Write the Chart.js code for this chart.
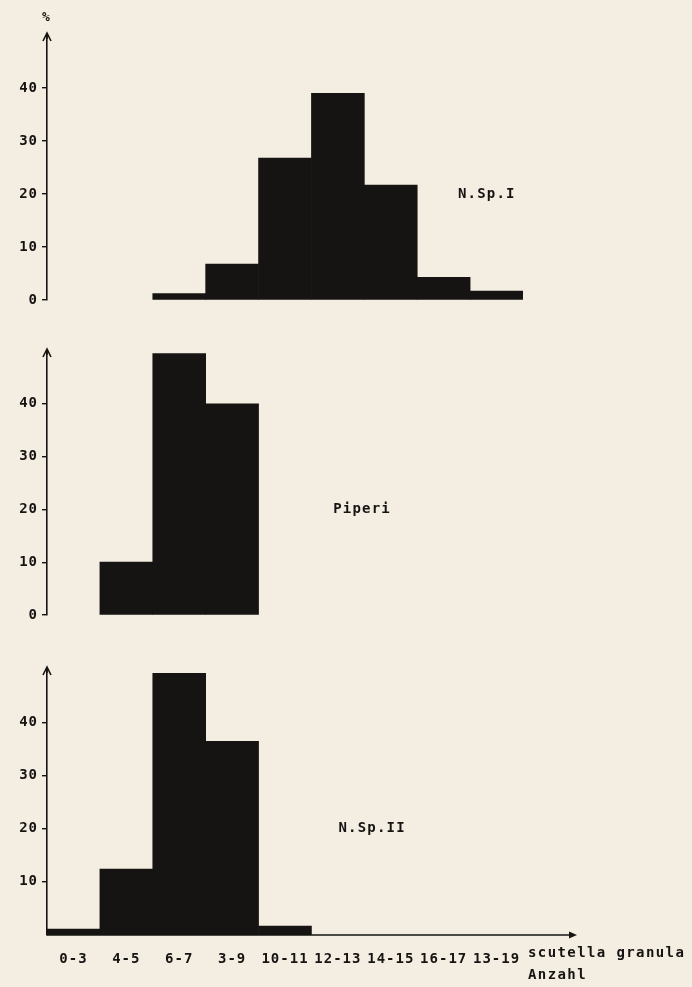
<!DOCTYPE html>
<html>
<head>
<meta charset="utf-8">
<script src="https://cdn.jsdelivr.net/npm/chart.js@4.4.1/dist/chart.umd.min.js"></script>
<style>
  html, body { margin: 0; padding: 0; background: #f4ede1; }
  #wrap { position: relative; width: 692px; height: 987px; }
  #wrap canvas { position: absolute; left: 0; top: 0; }
</style>
</head>
<body>
<div id="wrap">
  <canvas id="panel1" width="692" height="987"></canvas>
  <canvas id="panel2" width="692" height="987"></canvas>
  <canvas id="panel3" width="692" height="987"></canvas>
</div>
<script>
const categories = ['0-3', '4-5', '6-7', '3-9', '10-11', '12-13', '14-15', '16-17', '13-19'];
const nsp1Values = [0, 0, 1.2, 6.8, 26.8, 39, 21.7, 4.3, 1.7];
const piperiValues = [0, 10, 49.5, 40, 0, 0, 0, 0, 0];
const nsp2Values = [1.1, 12.4, 49.2, 36.4, 1.7, 0, 0, 0, 0];
const yTicks = [0, 10, 20, 30, 40];
const seriesNames = ['N.Sp.I', 'Piperi', 'N.Sp.II'];

const ink = '#161412';
const font = "'DejaVu Sans Mono', monospace";

// arrows, panel names, axis caption
const decor = {
  id: 'decor',
  beforeDraw(chart) {
    chart.ctx.letterSpacing = '1px';
  },
  afterDraw(chart, args, o) {
    const ctx = chart.ctx;
    const area = chart.chartArea;
    const ax = area.left;
    ctx.save();
    ctx.strokeStyle = ink;
    ctx.fillStyle = ink;
    ctx.lineWidth = 1.6;

    // y axis arrow
    ctx.beginPath();
    ctx.moveTo(ax, area.top + 4);
    ctx.lineTo(ax, area.top - 2);
    ctx.moveTo(ax - 4, area.top + 6);
    ctx.lineTo(ax, area.top - 2);
    ctx.lineTo(ax + 4, area.top + 6);
    ctx.stroke();

    // series name
    ctx.font = 'bold 14px ' + font;
    ctx.letterSpacing = '1.2px';
    ctx.textAlign = 'center';
    ctx.textBaseline = 'middle';
    const lx = chart.scales.x.getPixelForDecimal(o.labelAt);
    const ly = chart.scales.y.getPixelForValue(20);
    ctx.fillText(o.label, lx, ly);

    if (o.percent) {
      ctx.font = 'bold 13px ' + font;
      ctx.letterSpacing = '0px';
      ctx.fillText('%', ax - 1, area.top - 17);
    }

    if (o.xArrow) {
      const y = area.bottom;
      const end = area.right + 54;
      ctx.lineWidth = 1.6;
      ctx.beginPath();
      ctx.moveTo(ax, y);
      ctx.lineTo(end - 4, y);
      ctx.stroke();
      ctx.beginPath();
      ctx.moveTo(end, y);
      ctx.lineTo(end - 8, y - 3.5);
      ctx.lineTo(end - 8, y + 3.5);
      ctx.closePath();
      ctx.fill();

      ctx.font = 'bold 14px ' + font;
      ctx.letterSpacing = '1.4px';
      ctx.textAlign = 'left';
      ctx.fillText('scutella granula', area.right + 5, y + 18);
      ctx.fillText('Anzahl', area.right + 5, y + 40);
    }
    ctx.restore();
  }
};

function makePanel(id, name, values, pad, o) {
  new Chart(document.getElementById(id), {
    type: 'bar',
    data: {
      labels: categories,
      datasets: [{
        label: name,
        data: values.map(v => v || null),
        backgroundColor: ink,
        borderWidth: 0,
        categoryPercentage: 1,
        barPercentage: 1
      }]
    },
    options: {
      responsive: false,
      animation: false,
      devicePixelRatio: 1,
      layout: { padding: pad },
      plugins: {
        legend: { display: false },
        tooltip: { enabled: false },
        decor: Object.assign({ label: name }, o)
      },
      scales: {
        x: {
          display: !!o.xArrow,
          grid: { display: false },
          border: { display: false },
          ticks: {
            color: ink,
            font: { family: font, size: 14, weight: 'bold' },
            padding: 8,
            maxRotation: 0,
            autoSkip: false
          },
          afterFit(scale) { scale.height = o.xArrow ? 30 : 0; }
        },
        y: {
          min: 0,
          max: 50,
          afterFit(scale) { scale.width = 47; },
          afterBuildTicks(scale) {
            scale.ticks = yTicks.filter(v => !(o.xArrow && v === 0)).map(v => ({ value: v }));
          },
          grid: {
            drawOnChartArea: false,
            drawTicks: true,
            tickLength: 5,
            color: ink,
            lineWidth: 1.4
          },
          border: { display: true, color: ink, width: 1.6 },
          ticks: {
            color: ink,
            font: { family: font, size: 14, weight: 'bold' },
            padding: 4
          }
        }
      }
    },
    plugins: [decor]
  });
}

makePanel('panel1', seriesNames[0], nsp1Values,
  { left: 0, right: 169, top: 35, bottom: 687 },
  { labelAt: 0.924, percent: true });
makePanel('panel2', seriesNames[1], piperiValues,
  { left: 0, right: 169, top: 351, bottom: 372 },
  { labelAt: 0.662 });
makePanel('panel3', seriesNames[2], nsp2Values,
  { left: 0, right: 169, top: 669, bottom: 22 },
  { labelAt: 0.683, xArrow: true });
</script>
</body>
</html>
